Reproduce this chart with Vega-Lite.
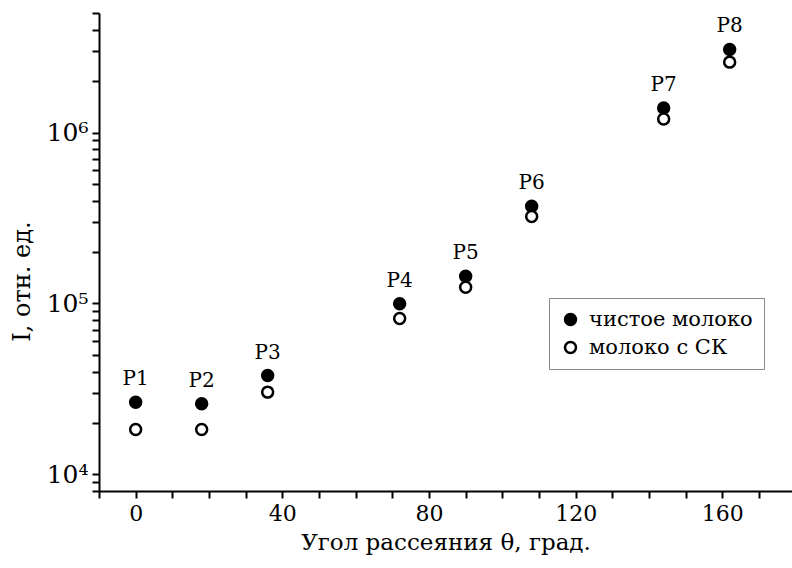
{
  "$schema": "https://vega.github.io/schema/vega-lite/v6.json",
  "width": 693,
  "height": 478,
  "autosize": {"type": "none"},
  "padding": {"left": 99, "top": 13, "right": 0, "bottom": 77},
  "background": "white",
  "config": {
    "view": {"stroke": null},
    "font": "DejaVu Serif"
  },
  "data": {
    "values": [
      {"theta": 0, "I": 26400, "series": "чистое молоко", "label": "P1"},
      {"theta": 18, "I": 25900, "series": "чистое молоко", "label": "P2"},
      {"theta": 36, "I": 37900, "series": "чистое молоко", "label": "P3"},
      {"theta": 72, "I": 99600, "series": "чистое молоко", "label": "P4"},
      {"theta": 90, "I": 144500, "series": "чистое молоко", "label": "P5"},
      {"theta": 108, "I": 370700, "series": "чистое молоко", "label": "P6"},
      {"theta": 144, "I": 1390000, "series": "чистое молоко", "label": "P7"},
      {"theta": 162, "I": 3060000, "series": "чистое молоко", "label": "P8"},
      {"theta": 0, "I": 18300, "series": "молоко с СК", "label": ""},
      {"theta": 18, "I": 18300, "series": "молоко с СК", "label": ""},
      {"theta": 36, "I": 30300, "series": "молоко с СК", "label": ""},
      {"theta": 72, "I": 81700, "series": "молоко с СК", "label": ""},
      {"theta": 90, "I": 124500, "series": "молоко с СК", "label": ""},
      {"theta": 108, "I": 322700, "series": "молоко с СК", "label": ""},
      {"theta": 144, "I": 1200000, "series": "молоко с СК", "label": ""},
      {"theta": 162, "I": 2580000, "series": "молоко с СК", "label": ""}
    ]
  },
  "encoding": {
    "x": {
      "field": "theta",
      "type": "quantitative",
      "scale": {"domain": [-10, 179], "nice": false, "zero": false},
      "axis": {
        "title": "Угол рассеяния θ, град.",
        "titleFont": "DejaVu Serif",
        "titleFontSize": 23,
        "titleFontWeight": "normal",
        "titleColor": "black",
        "titlePadding": 7,
        "values": [-10, 0, 10, 20, 30, 40, 50, 60, 70, 80, 90, 100, 110, 120, 130, 140, 150, 160, 170],
        "labelExpr": "datum.value % 40 == 0 ? datum.label : ''",
        "labelFont": "DejaVu Serif",
        "labelFontSize": 22,
        "labelColor": "black",
        "labelPadding": 5,
        "tickSize": 7,
        "tickWidth": 2,
        "tickColor": "black",
        "domainColor": "black",
        "domainWidth": 2,
        "grid": false,
        "labelFlush": false,
        "labelOverlap": false
      }
    },
    "y": {
      "field": "I",
      "type": "quantitative",
      "scale": {"type": "log", "domain": [8000, 5000000], "nice": false},
      "axis": {
        "title": "I, отн. ед.",
        "titleFont": "DejaVu Serif",
        "titleFontSize": 24,
        "titleFontWeight": "normal",
        "titleColor": "black",
        "titleAngle": -90,
        "titleBaseline": "middle",
        "titleAlign": "center",
        "titleX": -77,
        "titleY": 268,
        "values": [8000, 9000, 10000, 20000, 30000, 40000, 50000, 60000, 70000, 80000, 90000, 100000, 200000, 300000, 400000, 500000, 600000, 700000, 800000, 900000, 1000000, 2000000, 3000000, 4000000, 5000000],
        "labelExpr": "datum.value == 10000 ? '10⁴' : datum.value == 100000 ? '10⁵' : datum.value == 1000000 ? '10⁶' : ''",
        "labelFont": "DejaVu Serif",
        "labelFontSize": 25,
        "labelColor": "black",
        "labelPadding": 4,
        "tickSize": 7,
        "tickWidth": 2,
        "tickColor": "black",
        "domainColor": "black",
        "domainWidth": 2,
        "grid": false,
        "labelFlush": false,
        "labelOverlap": false
      }
    }
  },
  "layer": [
    {
      "mark": {"type": "point", "shape": "circle", "filled": true, "size": 120, "stroke": "black", "strokeWidth": 2.5, "opacity": 1},
      "encoding": {
        "fill": {
          "field": "series",
          "type": "nominal",
          "scale": {"domain": ["чистое молоко", "молоко с СК"], "range": ["black", "white"]},
          "legend": {
            "title": null,
            "orient": "none",
            "legendX": 450,
            "legendY": 285,
            "labelFont": "DejaVu Serif",
            "labelFontSize": 21,
            "labelLimit": 400,
            "labelColor": "black",
            "symbolSize": 120,
            "symbolStrokeColor": "black",
            "symbolStrokeWidth": 2.5,
            "symbolType": "circle",
            "strokeColor": "#888888",
            "padding": 11,
            "rowPadding": 6,
            "labelOffset": 8,
            "fillColor": "white"
          }
        }
      }
    },
    {
      "transform": [{"filter": "datum.label != ''"}],
      "mark": {"type": "text", "dy": -23, "font": "DejaVu Serif", "fontSize": 20, "color": "black"},
      "encoding": {
        "text": {"field": "label", "type": "nominal"}
      }
    }
  ]
}
